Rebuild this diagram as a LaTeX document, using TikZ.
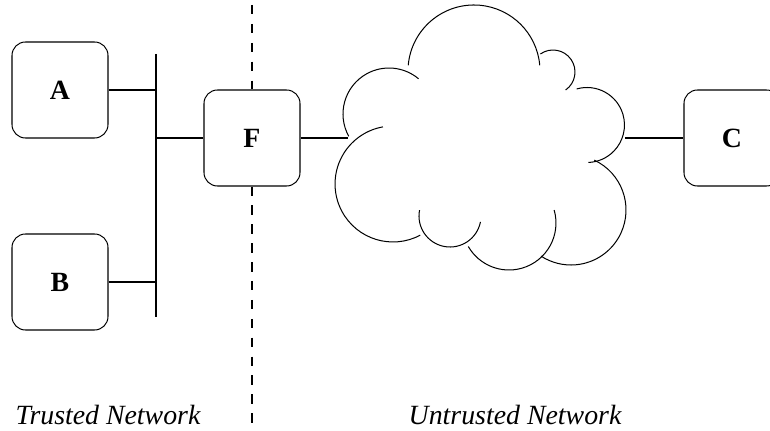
\documentclass[tikz,border=0pt]{standalone}
\usepackage{fontspec}
\setmainfont{Liberation Serif}
\tikzset{
    host/.style={draw, fill=white, rounded corners=.28cm, minimum size=2cm, font=\fontsize{16.5}{20}\selectfont\bfseries},
    netlabel/.style={anchor=base, font=\fontsize{16.5}{20}\selectfont\itshape},
    wall/.style={dash pattern=on 5.6pt off 5.6pt}
}
\begin{document}
\begin{tikzpicture}[line width=.6pt]
    \useasboundingbox (0, 0) rectangle (16.042, -8.979);
    \node [host] (A) at (1.25, -1.875) {A};
    \node [host] (B) at (1.25, -5.875) {B};
    \node [host] (F) at (5.25, -2.875) {F};
    \node [host] (C) at (15.25, -2.875) {C};
    % lan
    \coordinate (busTop) at (3.25, -1.125);
    \coordinate (busBot) at (3.25, -6.604);
    \draw (busTop) -- (busBot);
    \draw (A.east) -- (A.east -| busTop);
    \draw (B.east) -- (B.east -| busTop);
    \draw (F.west) -- (F.west -| busTop);
    % border
    \coordinate (wallTop) at (5.25, -.104);
    \coordinate (wallBot) at (5.25, -8.917);
    \draw [wall] (wallTop) -- (F.north);
    \draw [wall] (F.south) -- (wallBot);
    % cloud
    \foreach \cx/\cy/\r/\a/\b in {9.875/-1.479/1.375/175/5, 11.521/-1.5/.458/125/-55,
            12.229/-2.604/.781/106/-88, 11.896/-4.375/1.146/65/-123,
            10.604/-4.646/.979/16/-150, 9.375/-4.5/.646/169/349,
            8.188/-3.833/1.208/-62/-260, 8.104/-2.375/.958/209/50}
        \draw ([shift={(\a:\r)}]\cx, \cy) arc [start angle=\a, end angle=\b, radius=\r];
    \coordinate (cloudW) at (7.25, -2.875);
    \coordinate (cloudE) at (13.021, -2.875);
    \draw (F.east) -- (cloudW);
    \draw (cloudE) -- (C.west);
    \node [netlabel] (trusted) at (2.25, -8.854) {Trusted Network};
    \node [netlabel] (untrusted) at (10.73, -8.854) {Untrusted Network};
\end{tikzpicture}
\end{document}
